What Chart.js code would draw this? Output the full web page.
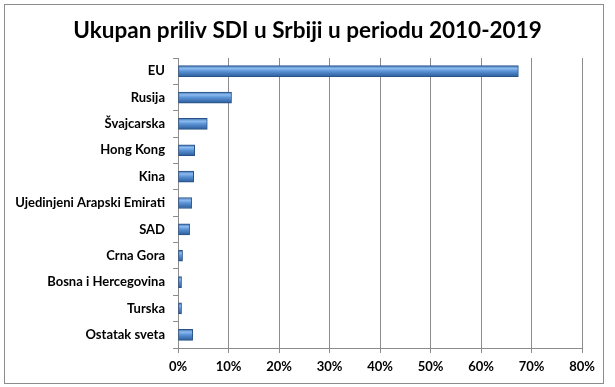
<!DOCTYPE html>
<html>
<head>
<meta charset="utf-8">
<script src="https://cdn.jsdelivr.net/npm/chart.js@4"></script>
<style>
    body { margin: 0; background: #fff; }
    #frame { position: absolute; left: 4px; top: 4px; width: 598px; height: 378px; border: 1px solid #8c8c8c; }
    #wrap { position: absolute; left: 0; top: 0; width: 615px; height: 387px; }
</style>
</head>
<body>
<div id="frame"></div>
<div id="wrap"><canvas id="myChart" width="615" height="387"></canvas></div>
<script>
const countries = ['EU', 'Rusija', 'Švajcarska', 'Hong Kong', 'Kina', 'Ujedinjeni Arapski Emirati',
    'SAD', 'Crna Gora', 'Bosna i Hercegovina', 'Turska', 'Ostatak sveta'];
const shares = [67.4, 10.6, 5.8, 3.3, 3.1, 2.7, 2.3, 0.9, 0.7, 0.7, 2.9];
const xTicks = [0, 10, 20, 30, 40, 50, 60, 70, 80];

const ctx = document.getElementById('myChart').getContext('2d');
const fontFam = 'Lato, "Open Sans", sans-serif';

// bevelled blue look, gradient computed per bar row
function barGradient(c) {
    const chart = c.chart;
    const yScale = chart.scales.y;
    if (!yScale || c.dataIndex === undefined) return '#4f81bd';
    const cy = yScale.getPixelForValue(c.dataIndex);
    if (!isFinite(cy)) return '#4f81bd';
    const g = chart.ctx.createLinearGradient(0, cy - 5.5, 0, cy + 5.5);
    g.addColorStop(0, '#3d6fae');
    g.addColorStop(0.25, '#8cbcf0');
    g.addColorStop(0.5, '#5b93d6');
    g.addColorStop(1, '#2b5c99');
    return g;
}

// centre the title on the whole frame, not on the padded box
const centreTitle = {
    id: 'centreTitle',
    afterLayout(chart) {
        if (chart.titleBlock) {
            chart.titleBlock.left = 0;
            chart.titleBlock.right = chart.width;
        }
    }
};

const myChart = new Chart(ctx, {
    type: 'bar',
    data: {
        labels: countries,
        datasets: [{
            data: shares,
            backgroundColor: barGradient,
            borderColor: '#2a5288',
            borderWidth: 1,
            borderSkipped: false,
            barThickness: 11
        }]
    },
    plugins: [centreTitle],
    options: {
        indexAxis: 'y',
        responsive: false,
        animation: false,
        layout: { padding: { left: 0, right: 33, top: 0, bottom: 0 } },
        plugins: {
            legend: { display: false },
            tooltip: { enabled: false },
            title: {
                display: true,
                text: 'Ukupan priliv SDI u Srbiji u periodu 2010-2019',
                color: '#000',
                font: { family: fontFam, size: 22.5, weight: 'bold' },
                padding: { top: 17, bottom: 14 }
            }
        },
        scales: {
            x: {
                min: 0,
                max: 80,
                afterBuildTicks: s => { s.ticks = xTicks.map(v => ({ value: v })); },
                afterFit: s => { s.height = 39; },
                grid: { color: '#8c8c8c', lineWidth: 1, tickLength: 5 },
                border: { color: '#8c8c8c' },
                ticks: {
                    color: '#000',
                    padding: 6,
                    font: { family: fontFam, size: 13, weight: 'bold' },
                    callback: v => v + '%'
                }
            },
            y: {
                afterFit: s => { s.width = 178; },
                grid: { drawOnChartArea: false, color: '#8c8c8c', tickLength: 5 },
                border: { color: '#8c8c8c' },
                ticks: {
                    color: '#000',
                    padding: 8,
                    font: { family: fontFam, size: 13, weight: 'bold' }
                }
            }
        }
    }
});
</script>
</body>
</html>
